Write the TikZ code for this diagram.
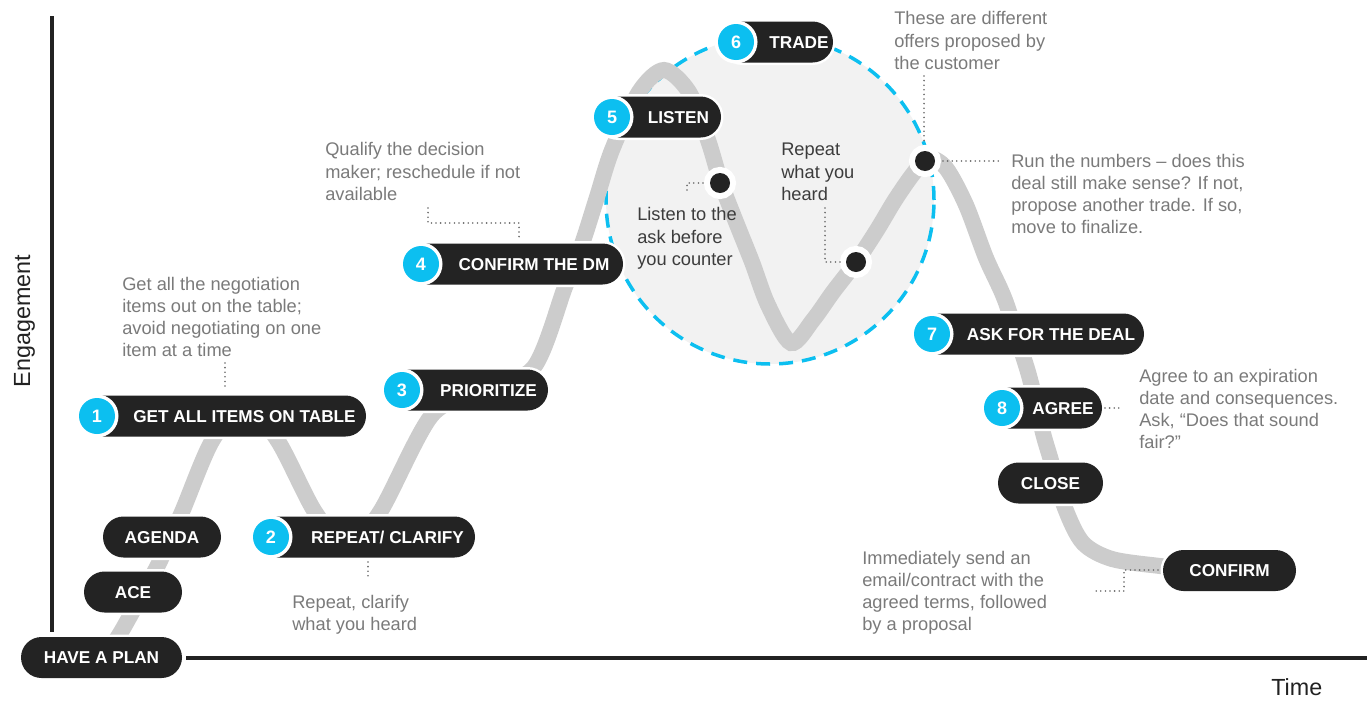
\documentclass[tikz,border=0pt]{standalone}
\usepackage{fontspec}
\setmainfont{Liberation Sans}
\usetikzlibrary{calc}
\newlength\ux
\setlength\ux{0.75pt}
\definecolor{pillc}{HTML}{232323}
\definecolor{numc}{HTML}{0CBFF0}
\definecolor{bandc}{HTML}{CCCCCC}
\definecolor{zonec}{HTML}{F2F2F2}
\definecolor{notec}{HTML}{7A7A7A}
\definecolor{notedark}{HTML}{3C3C3C}
\definecolor{axisc}{HTML}{222222}
\definecolor{leadc}{HTML}{6A6A6A}
\tikzset{
  pill/.style={rectangle, rounded corners=20.5\ux, fill=pillc, minimum height=41\ux,
    inner sep=0pt, text=white, font=\bfseries\fontsize{12.9}{14}\selectfont,
    text height=9.2pt, text depth=0pt,
    preaction={draw=white, line width=5\ux}},
  pilltext/.style={inner sep=0pt, text=white, font=\bfseries\fontsize{12.9}{14}\selectfont,
    text height=9.2pt, text depth=0pt},
  num/.style={circle, fill=numc, minimum size=36\ux, inner sep=0pt, text=white,
    font=\bfseries\fontsize{13.5}{15}\selectfont, text height=9.6pt, text depth=0pt,
    preaction={draw=white, line width=7\ux}},
  dotn/.style={circle, fill=pillc, minimum size=20\ux, inner sep=0pt,
    preaction={draw=white, line width=12\ux}},
  % multi-line notes are placed by the baseline of their last line
  note/.style={anchor=base west, align=left, inner sep=0pt, text=notec,
    font=\fontsize{13.7}{16.7}\selectfont},
  notein/.style={note, text=notedark},
  leader/.style={draw=leadc, line width=1.8\ux, dash pattern=on 0pt off 4.6\ux, line cap=round},
  band/.style={draw=bandc, line width=16\ux},
  axis/.style={draw=axisc, line width=4\ux},
  axislabel/.style={inner sep=0pt, text=axisc, font=\fontsize{17.5}{20}\selectfont},
}
\begin{document}
\begin{tikzpicture}[x=0.75pt, y=-0.75pt]
\useasboundingbox (0,0) rectangle (1367,700);

% axes
\coordinate (ytop) at (52,16);
\coordinate (ybot) at (52,632);
\coordinate (xleft) at (186,658);
\coordinate (xright) at (1367,658);
\draw[axis] (ytop) -- (ybot);
\draw[axis] (xleft) -- (xright);
\node[axislabel, rotate=90, anchor=base] (eng) at (30,321) {Engagement};
\node[axislabel, anchor=base west] (time) at (1271,695) {Time};

% trading zone
\node[circle, minimum size=328\ux, inner sep=0pt, fill=zonec] (zone) at (770,200) {};
\node[circle, minimum size=328\ux, inner sep=0pt, draw=numc, line width=3.5\ux,
      dash pattern=on 14\ux off 9\ux] (zoneline) at (zone.center) {};

% engagement curve
\draw[band] plot[smooth, tension=0.5] coordinates {
  (108,652) (121,632) (140,598) (159,563) (182,512) (212,441) (245,404) (278,441)
  (315,512) (347,546) (380,512) (432,415) (483,391) (534,367) (565,287) (582,244)
  (597,197) (612,150) (639,92) (664,70) (689,92) (708,140) (721,183) (736,222)
  (752,262) (768,305) (791,343) (813,320) (833,292) (856,262) (877,230) (895,200)
  (913,174) (928,158) (946,168) (966,205) (986,258) (1005,300) (1024,359) (1031,383)
  (1043,433) (1050,457) (1065,508) (1083,543) (1112,559) (1160,566) (1200,570)};

% checkpoints on the curve
\node[dotn] (dlisten) at (720,183) {};
\node[dotn] (drepeat) at (856,262) {};
\node[dotn] (dtrade) at (925,161) {};

% plain steps
\node[pill, minimum width=161\ux] (plan) at (101.5,657.5) {HAVE A PLAN};
\node[pill, minimum width=98\ux] (ace) at (133,592) {ACE};
\node[pill, minimum width=118\ux] (agenda) at (162,537) {AGENDA};
\node[pill, minimum width=105\ux] (close) at (1050.5,483) {CLOSE};
\node[pill, minimum width=133\ux] (confirm) at (1229.5,570.5) {CONFIRM};

% numbered steps
\node[pill, minimum width=283\ux] (p1) at (224.5,416) {};
\node[pilltext] (t1) at (244.5,416) {GET ALL ITEMS ON TABLE};
\node[num] (n1) at (97,416) {1};

\node[pill, minimum width=218\ux] (p2) at (366,537) {};
\node[pilltext] (t2) at (387.5,537) {REPEAT/ CLARIFY};
\node[num] (n2) at (271,537) {2};

\node[pill, minimum width=160\ux] (p3) at (468,390) {};
\node[pilltext] (t3) at (488.5,390) {PRIORITIZE};
\node[num] (n3) at (402,390) {3};

\node[pill, minimum width=216\ux] (p4) at (515,264) {};
\node[pilltext] (t4) at (534,264) {CONFIRM THE DM};
\node[num] (n4) at (421,264) {4};

\node[pill, minimum width=123\ux] (p5) at (659.5,117) {};
\node[pilltext] (t5) at (678.5,117) {LISTEN};
\node[num] (n5) at (612,117) {5};

\node[pill, minimum width=111\ux] (p6) at (777.5,42) {};
\node[pilltext] (t6) at (799,42) {TRADE};
\node[num] (n6) at (736,42) {6};

\node[pill, minimum width=226\ux] (p7) at (1031,334) {};
\node[pilltext] (t7) at (1051,334) {ASK FOR THE DEAL};
\node[num] (n7) at (932,334) {7};

\node[pill, minimum width=114\ux] (p8) at (1045,408) {};
\node[pilltext] (t8) at (1063,408) {AGREE};
\node[num] (n8) at (1002,408) {8};

% notes
\node[note] (a1) at (122,356.8) {Get all the negotiation\\items out on the table;\\avoid negotiating on one\\item at a time};
\node[note] (a2) at (292,630.3) {Repeat, clarify\\what you heard};
\node[note] (a3) at (325,200.5) {Qualify the decision\\maker; reschedule if not\\available};
\node[notein] (a4) at (637,265.5) {Listen to the\\ask before\\you counter};
\node[notein] (a5) at (781,200.5) {Repeat\\what you\\heard};
\node[note] (a6) at (894,69.5) {These are different\\offers proposed by\\the customer};
\node[note] (a7) at (1011,233.8) {Run the numbers – does this\\deal still make sense? If not,\\propose another trade. If so,\\move to finalize.};
\node[note] (a8) at (1139,448.8) {Agree to an expiration\\date and consequences.\\Ask, “Does that sound\\fair?”};
\node[note] (a9) at (862,630.8) {Immediately send an\\email/contract with the\\agreed terms, followed\\by a proposal};

% dotted leaders
\coordinate (l1a) at (225,363);
\coordinate (l1b) at (225,387);
\draw[leader] (l1a) -- (l1b);
\coordinate (l2a) at (368,562);
\coordinate (l2b) at (368,579);
\draw[leader] (l2a) -- (l2b);
\coordinate (l3a) at (428,208);
\coordinate (l3b) at (519,223);
\coordinate (l3c) at (519,238);
\draw[leader] (l3a) |- (l3b) -- (l3c);
\coordinate (l4a) at (687,190);
\coordinate (l4b) at (706,183);
\draw[leader] (l4a) |- (l4b);
\coordinate (l5a) at (825,208);
\coordinate (l5b) at (842,262);
\draw[leader] (l5a) |- (l5b);
\coordinate (l6a) at (924,76);
\coordinate (l6b) at (924,144);
\draw[leader] (l6a) -- (l6b);
\coordinate (l7a) at (943,161);
\coordinate (l7b) at (1000,161);
\draw[leader] (l7a) -- (l7b);
\coordinate (l8a) at (1105,408);
\coordinate (l8b) at (1122,408);
\draw[leader] (l8a) -- (l8b);
\coordinate (l9a) at (1158,570);
\coordinate (l9b) at (1124,570);
\coordinate (l9c) at (1092,591);
\draw[leader] (l9a) -- (l9b) |- (l9c);
\end{tikzpicture}
\end{document}
